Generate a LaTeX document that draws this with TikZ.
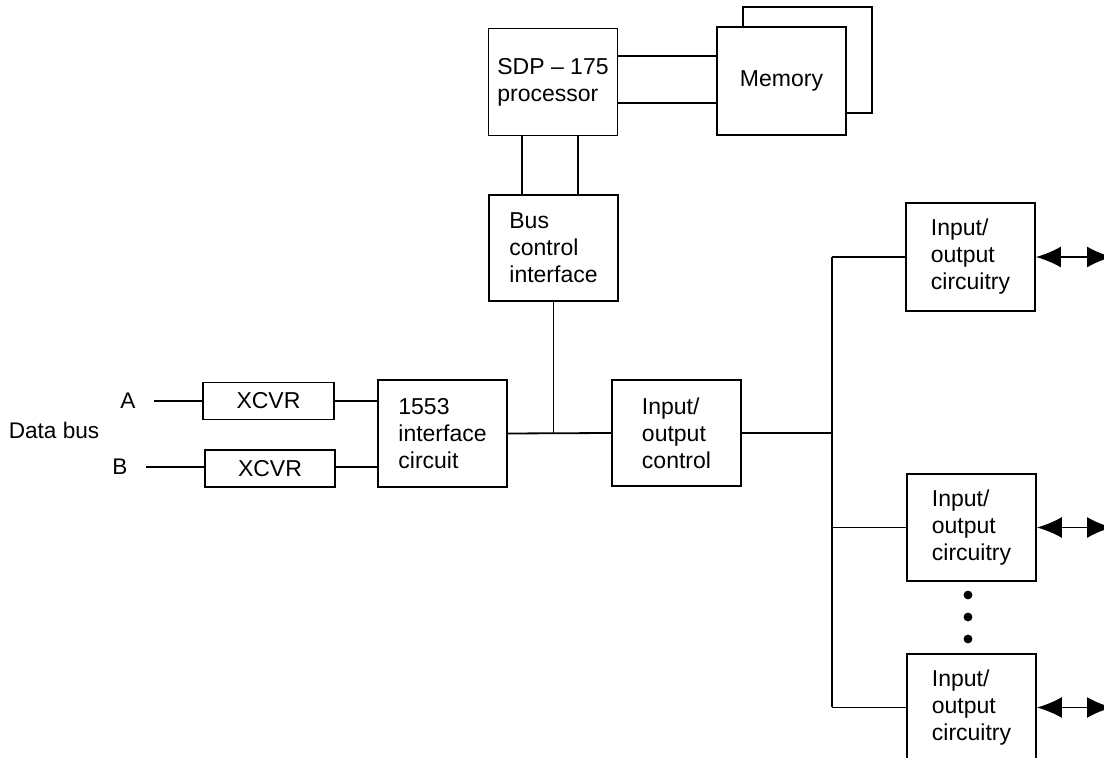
\documentclass[tikz,border=0pt]{standalone}
\usepackage{fontspec}
\setmainfont{Liberation Sans}
\usetikzlibrary{arrows.meta, positioning}

\begin{document}
\begin{tikzpicture}[
    x=0.5pt, y=-0.5pt,
    line width=0.9pt,
    box/.style={
        rectangle,
        draw,
        fill=white,
        inner sep=0pt,
        minimum width=64.5pt,
        minimum height=53.5pt,
        align=left,
        font=\fontsize{11.5}{13.5}\selectfont
    },
    xcvrbox/.style={
        box,
        minimum width=65.5pt,
        minimum height=18.5pt
    },
    busname/.style={
        inner sep=0pt,
        font=\fontsize{11.3}{13.5}\selectfont
    },
    biarrow/.style={
        {Latex[length=12.5pt, width=10.5pt]}-{Latex[length=12.5pt, width=10.5pt]}
    }
]
\useasboundingbox (0,0) rectangle (1104,758);

% === Processor and memory ===
\node[box] (sdp) at (553,82) {SDP -- 175\\processor};
\node[box, minimum height=53pt] (memback) at (807.5,60) {};
\node[box, minimum height=54pt] (memory) at (781.5,81) {Memory};
\node[box, minimum height=53pt] (bus) at (553.5,248) {Bus\\control\\interface};

% === Data bus side ===
\node[busname] (databus) at (54,430) {Data bus};
\node[busname] (busa) at (128,401) {A};
\node[busname] (busb) at (120,467) {B};
\node[xcvrbox] (xcvra) at (268.5,401) {XCVR};
\node[xcvrbox, minimum width=65pt] (xcvrb) at (270,468.5) {XCVR};
\node[box] (iface) at (442.5,433.5) {1553\\interface\\circuit};
\node[box, minimum height=53pt] (ioctl) at (676.5,433) {Input/\\output\\control};

% === Input/output circuitry ===
\node[box, minimum height=54pt] (ioc1) at (970.5,257) {Input/\\output\\circuitry};
\node[box] (ioc2) at (971.5,527.5) {Input/\\output\\circuitry};
\node[box] (ioc3) at (971.5,707.5) {Input/\\output\\circuitry};
\foreach \y in {595,617,639}
    \fill (968,\y) circle (2.2pt);

\coordinate (vbus) at (832,0);
\coordinate (edge) at (1112,0);

% === Connections ===
\draw ([yshift=13pt]sdp.east) -- ([yshift=13pt]sdp.east -| memory.west);
\draw ([yshift=-10.5pt]sdp.east) -- ([yshift=-10.5pt]sdp.east -| memory.west);
\draw (sdp.south -| 522,0) -- (bus.north -| 522,0);
\draw (sdp.south -| 578,0) -- (bus.north -| 578,0);

\draw ([xshift=9pt]busa.east) -- (xcvra.west);
\draw ([xshift=9pt]busb.east) -- (busb.east -| xcvrb.west);
\draw (xcvra.east) -- (xcvra.east -| iface.west);
\draw (busb.east -| xcvrb.east) -- (busb.east -| iface.west);

\draw (iface.east) -- (ioctl.west);
\draw (bus.south) -- (bus.south |- iface.east);
\draw (ioctl.east) -- (ioctl.east -| vbus);
\draw (ioc1.west -| vbus) -- (ioc3.west -| vbus);
\foreach \n in {ioc1,ioc2,ioc3} {
    \draw (\n.west -| vbus) -- (\n.west);
    \draw[biarrow] (\n.east) -- (\n.east -| edge);
}

\end{tikzpicture}
\end{document}
